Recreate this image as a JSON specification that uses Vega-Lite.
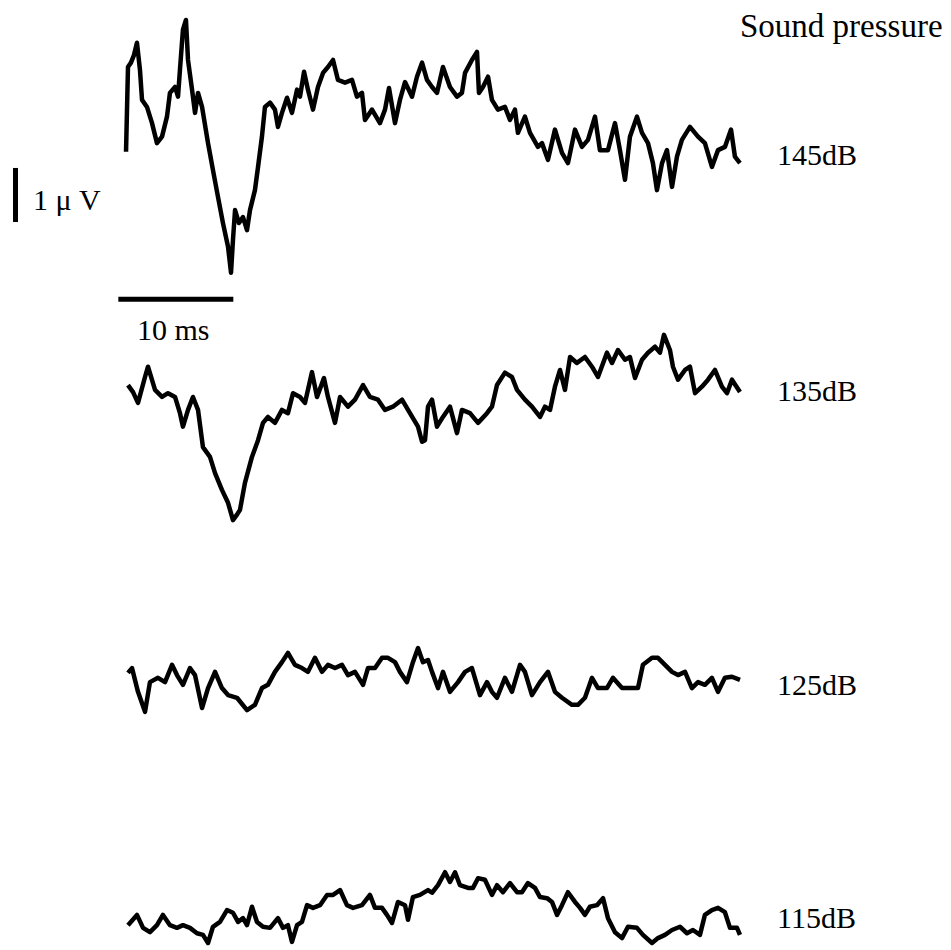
{
  "$schema": "https://vega.github.io/schema/vega-lite/v6.json",
  "width": 951,
  "height": 950,
  "autosize": {"type": "fit", "contains": "padding"},
  "padding": 0,
  "background": "white",
  "config": {"view": {"stroke": null}},
  "datasets": {
    "traces": [
      {"trace":"145dB","ms":0.09,"uV":14.78},{"trace":"145dB","ms":0.26,"uV":16.35},{"trace":"145dB","ms":0.52,"uV":16.43},{"trace":"145dB","ms":0.78,"uV":16.57},{"trace":"145dB","ms":1.04,"uV":16.80},{"trace":"145dB","ms":1.30,"uV":16.30},{"trace":"145dB","ms":1.48,"uV":15.74},{"trace":"145dB","ms":1.91,"uV":15.61},{"trace":"145dB","ms":2.35,"uV":15.31},{"trace":"145dB","ms":2.78,"uV":14.94},{"trace":"145dB","ms":3.22,"uV":15.06},{"trace":"145dB","ms":3.65,"uV":15.43},{"trace":"145dB","ms":3.91,"uV":15.87},{"trace":"145dB","ms":4.35,"uV":15.98},{"trace":"145dB","ms":4.61,"uV":15.80},{"trace":"145dB","ms":4.78,"uV":16.30},{"trace":"145dB","ms":5.04,"uV":17.04},{"trace":"145dB","ms":5.30,"uV":17.22},{"trace":"145dB","ms":5.48,"uV":16.48},{"trace":"145dB","ms":5.83,"uV":15.93},{"trace":"145dB","ms":6.09,"uV":15.50},{"trace":"145dB","ms":6.35,"uV":15.87},{"trace":"145dB","ms":6.70,"uV":15.61},{"trace":"145dB","ms":7.22,"uV":14.94},{"trace":"145dB","ms":7.65,"uV":14.44},{"trace":"145dB","ms":8.09,"uV":13.94},{"trace":"145dB","ms":8.52,"uV":13.46},{"trace":"145dB","ms":8.96,"uV":13.02},{"trace":"145dB","ms":9.22,"uV":12.54},{"trace":"145dB","ms":9.39,"uV":13.15},{"trace":"145dB","ms":9.57,"uV":13.70},{"trace":"145dB","ms":9.91,"uV":13.46},{"trace":"145dB","ms":10.26,"uV":13.57},{"trace":"145dB","ms":10.61,"uV":13.33},{"trace":"145dB","ms":10.87,"uV":13.70},{"trace":"145dB","ms":11.30,"uV":14.07},{"trace":"145dB","ms":11.57,"uV":14.50},{"trace":"145dB","ms":11.91,"uV":15.06},{"trace":"145dB","ms":12.17,"uV":15.61},{"trace":"145dB","ms":12.61,"uV":15.69},{"trace":"145dB","ms":13.04,"uV":15.56},{"trace":"145dB","ms":13.30,"uV":15.24},{"trace":"145dB","ms":13.65,"uV":15.50},{"trace":"145dB","ms":14.09,"uV":15.78},{"trace":"145dB","ms":14.52,"uV":15.50},{"trace":"145dB","ms":14.96,"uV":15.93},{"trace":"145dB","ms":15.22,"uV":15.80},{"trace":"145dB","ms":15.57,"uV":16.26},{"trace":"145dB","ms":15.91,"uV":15.93},{"trace":"145dB","ms":16.35,"uV":15.56},{"trace":"145dB","ms":16.78,"uV":15.98},{"trace":"145dB","ms":17.22,"uV":16.24},{"trace":"145dB","ms":17.65,"uV":16.35},{"trace":"145dB","ms":18.09,"uV":16.48},{"trace":"145dB","ms":18.52,"uV":16.11},{"trace":"145dB","ms":19.13,"uV":16.06},{"trace":"145dB","ms":19.74,"uV":16.11},{"trace":"145dB","ms":20.17,"uV":15.80},{"trace":"145dB","ms":20.61,"uV":15.87},{"trace":"145dB","ms":20.87,"uV":15.37},{"trace":"145dB","ms":21.48,"uV":15.56},{"trace":"145dB","ms":22.17,"uV":15.31},{"trace":"145dB","ms":22.61,"uV":15.56},{"trace":"145dB","ms":22.96,"uV":15.96},{"trace":"145dB","ms":23.48,"uV":15.31},{"trace":"145dB","ms":23.91,"uV":15.74},{"trace":"145dB","ms":24.35,"uV":16.07},{"trace":"145dB","ms":24.96,"uV":15.80},{"trace":"145dB","ms":25.39,"uV":16.17},{"trace":"145dB","ms":25.83,"uV":16.43},{"trace":"145dB","ms":26.26,"uV":16.11},{"trace":"145dB","ms":26.70,"uV":15.98},{"trace":"145dB","ms":27.13,"uV":15.87},{"trace":"145dB","ms":27.65,"uV":16.35},{"trace":"145dB","ms":28.26,"uV":15.98},{"trace":"145dB","ms":28.87,"uV":15.80},{"trace":"145dB","ms":29.30,"uV":15.87},{"trace":"145dB","ms":29.57,"uV":16.24},{"trace":"145dB","ms":30.17,"uV":16.48},{"trace":"145dB","ms":30.61,"uV":16.63},{"trace":"145dB","ms":30.78,"uV":15.87},{"trace":"145dB","ms":31.13,"uV":15.98},{"trace":"145dB","ms":31.57,"uV":16.17},{"trace":"145dB","ms":31.91,"uV":15.74},{"trace":"145dB","ms":32.43,"uV":15.56},{"trace":"145dB","ms":33.04,"uV":15.61},{"trace":"145dB","ms":33.48,"uV":15.37},{"trace":"145dB","ms":33.91,"uV":15.56},{"trace":"145dB","ms":34.17,"uV":15.13},{"trace":"145dB","ms":34.78,"uV":15.43},{"trace":"145dB","ms":35.22,"uV":15.13},{"trace":"145dB","ms":35.91,"uV":14.87},{"trace":"145dB","ms":36.26,"uV":14.94},{"trace":"145dB","ms":36.78,"uV":14.63},{"trace":"145dB","ms":37.39,"uV":15.19},{"trace":"145dB","ms":38.00,"uV":14.76},{"trace":"145dB","ms":38.52,"uV":14.57},{"trace":"145dB","ms":39.13,"uV":15.19},{"trace":"145dB","ms":39.74,"uV":14.87},{"trace":"145dB","ms":40.26,"uV":15.00},{"trace":"145dB","ms":40.87,"uV":15.43},{"trace":"145dB","ms":41.30,"uV":14.81},{"trace":"145dB","ms":42.00,"uV":14.81},{"trace":"145dB","ms":42.61,"uV":15.31},{"trace":"145dB","ms":43.04,"uV":14.81},{"trace":"145dB","ms":43.48,"uV":14.26},{"trace":"145dB","ms":43.91,"uV":15.06},{"trace":"145dB","ms":44.52,"uV":15.43},{"trace":"145dB","ms":44.96,"uV":15.13},{"trace":"145dB","ms":45.48,"uV":14.94},{"trace":"145dB","ms":45.91,"uV":14.57},{"trace":"145dB","ms":46.26,"uV":14.07},{"trace":"145dB","ms":46.70,"uV":14.57},{"trace":"145dB","ms":47.13,"uV":14.81},{"trace":"145dB","ms":47.57,"uV":14.13},{"trace":"145dB","ms":48.00,"uV":14.69},{"trace":"145dB","ms":48.43,"uV":15.00},{"trace":"145dB","ms":49.13,"uV":15.24},{"trace":"145dB","ms":49.83,"uV":15.06},{"trace":"145dB","ms":50.43,"uV":14.94},{"trace":"145dB","ms":51.04,"uV":14.50},{"trace":"145dB","ms":51.57,"uV":14.81},{"trace":"145dB","ms":52.17,"uV":14.87},{"trace":"145dB","ms":52.70,"uV":15.19},{"trace":"145dB","ms":53.04,"uV":14.69},{"trace":"145dB","ms":53.48,"uV":14.57},

      {"trace":"135dB","ms":0.26,"uV":10.46},{"trace":"135dB","ms":0.70,"uV":10.33},{"trace":"135dB","ms":1.13,"uV":10.13},{"trace":"135dB","ms":1.74,"uV":10.61},{"trace":"135dB","ms":2.00,"uV":10.80},{"trace":"135dB","ms":2.61,"uV":10.37},{"trace":"135dB","ms":3.22,"uV":10.24},{"trace":"135dB","ms":3.74,"uV":10.31},{"trace":"135dB","ms":4.35,"uV":10.24},{"trace":"135dB","ms":4.78,"uV":9.94},{"trace":"135dB","ms":5.04,"uV":9.69},{"trace":"135dB","ms":5.48,"uV":10.00},{"trace":"135dB","ms":5.91,"uV":10.24},{"trace":"135dB","ms":6.35,"uV":10.00},{"trace":"135dB","ms":6.78,"uV":9.31},{"trace":"135dB","ms":7.39,"uV":9.13},{"trace":"135dB","ms":7.83,"uV":8.83},{"trace":"135dB","ms":8.43,"uV":8.52},{"trace":"135dB","ms":8.96,"uV":8.28},{"trace":"135dB","ms":9.39,"uV":7.96},{"trace":"135dB","ms":9.74,"uV":8.06},{"trace":"135dB","ms":10.00,"uV":8.15},{"trace":"135dB","ms":10.43,"uV":8.65},{"trace":"135dB","ms":11.04,"uV":9.13},{"trace":"135dB","ms":11.57,"uV":9.44},{"trace":"135dB","ms":12.00,"uV":9.76},{"trace":"135dB","ms":12.43,"uV":9.87},{"trace":"135dB","ms":13.04,"uV":9.76},{"trace":"135dB","ms":13.65,"uV":10.00},{"trace":"135dB","ms":14.17,"uV":9.94},{"trace":"135dB","ms":14.61,"uV":10.31},{"trace":"135dB","ms":15.22,"uV":10.24},{"trace":"135dB","ms":15.65,"uV":10.13},{"trace":"135dB","ms":16.26,"uV":10.70},{"trace":"135dB","ms":16.70,"uV":10.24},{"trace":"135dB","ms":17.30,"uV":10.59},{"trace":"135dB","ms":17.65,"uV":10.24},{"trace":"135dB","ms":18.26,"uV":9.76},{"trace":"135dB","ms":18.70,"uV":10.24},{"trace":"135dB","ms":19.39,"uV":10.06},{"trace":"135dB","ms":20.00,"uV":10.19},{"trace":"135dB","ms":20.70,"uV":10.46},{"trace":"135dB","ms":21.30,"uV":10.24},{"trace":"135dB","ms":22.00,"uV":10.19},{"trace":"135dB","ms":22.61,"uV":10.00},{"trace":"135dB","ms":23.30,"uV":10.06},{"trace":"135dB","ms":24.09,"uV":10.19},{"trace":"135dB","ms":24.78,"uV":9.94},{"trace":"135dB","ms":25.48,"uV":9.69},{"trace":"135dB","ms":25.83,"uV":9.41},{"trace":"135dB","ms":26.09,"uV":9.44},{"trace":"135dB","ms":26.35,"uV":10.06},{"trace":"135dB","ms":26.70,"uV":10.19},{"trace":"135dB","ms":27.13,"uV":9.69},{"trace":"135dB","ms":27.65,"uV":9.87},{"trace":"135dB","ms":28.26,"uV":10.06},{"trace":"135dB","ms":28.87,"uV":9.57},{"trace":"135dB","ms":29.30,"uV":10.00},{"trace":"135dB","ms":30.00,"uV":9.94},{"trace":"135dB","ms":30.70,"uV":9.76},{"trace":"135dB","ms":31.48,"uV":9.94},{"trace":"135dB","ms":31.91,"uV":10.06},{"trace":"135dB","ms":32.35,"uV":10.46},{"trace":"135dB","ms":33.04,"uV":10.69},{"trace":"135dB","ms":33.65,"uV":10.61},{"trace":"135dB","ms":34.09,"uV":10.37},{"trace":"135dB","ms":34.78,"uV":10.19},{"trace":"135dB","ms":35.39,"uV":10.06},{"trace":"135dB","ms":36.09,"uV":9.87},{"trace":"135dB","ms":36.52,"uV":10.06},{"trace":"135dB","ms":36.96,"uV":10.00},{"trace":"135dB","ms":37.39,"uV":10.43},{"trace":"135dB","ms":37.83,"uV":10.74},{"trace":"135dB","ms":38.26,"uV":10.37},{"trace":"135dB","ms":38.70,"uV":10.98},{"trace":"135dB","ms":39.30,"uV":10.87},{"trace":"135dB","ms":40.00,"uV":10.98},{"trace":"135dB","ms":40.61,"uV":10.80},{"trace":"135dB","ms":41.13,"uV":10.61},{"trace":"135dB","ms":41.91,"uV":11.06},{"trace":"135dB","ms":42.35,"uV":10.87},{"trace":"135dB","ms":42.87,"uV":11.11},{"trace":"135dB","ms":43.48,"uV":10.93},{"trace":"135dB","ms":43.91,"uV":10.98},{"trace":"135dB","ms":44.35,"uV":10.59},{"trace":"135dB","ms":44.96,"uV":10.93},{"trace":"135dB","ms":45.48,"uV":11.06},{"trace":"135dB","ms":46.09,"uV":11.17},{"trace":"135dB","ms":46.52,"uV":11.06},{"trace":"135dB","ms":46.87,"uV":11.39},{"trace":"135dB","ms":47.39,"uV":11.11},{"trace":"135dB","ms":47.65,"uV":10.80},{"trace":"135dB","ms":48.09,"uV":10.56},{"trace":"135dB","ms":48.70,"uV":10.74},{"trace":"135dB","ms":49.13,"uV":10.80},{"trace":"135dB","ms":49.57,"uV":10.31},{"trace":"135dB","ms":50.17,"uV":10.43},{"trace":"135dB","ms":50.70,"uV":10.56},{"trace":"135dB","ms":51.30,"uV":10.74},{"trace":"135dB","ms":51.91,"uV":10.43},{"trace":"135dB","ms":52.35,"uV":10.31},{"trace":"135dB","ms":52.78,"uV":10.56},{"trace":"135dB","ms":53.48,"uV":10.33},

      {"trace":"125dB","ms":0.26,"uV":5.13},{"trace":"125dB","ms":0.61,"uV":5.22},{"trace":"125dB","ms":1.13,"uV":4.78},{"trace":"125dB","ms":1.74,"uV":4.41},{"trace":"125dB","ms":2.17,"uV":4.96},{"trace":"125dB","ms":2.87,"uV":5.04},{"trace":"125dB","ms":3.48,"uV":4.96},{"trace":"125dB","ms":4.09,"uV":5.28},{"trace":"125dB","ms":4.52,"uV":5.09},{"trace":"125dB","ms":5.04,"uV":4.91},{"trace":"125dB","ms":5.65,"uV":5.22},{"trace":"125dB","ms":6.09,"uV":5.09},{"trace":"125dB","ms":6.70,"uV":4.48},{"trace":"125dB","ms":7.22,"uV":4.85},{"trace":"125dB","ms":7.83,"uV":5.15},{"trace":"125dB","ms":8.43,"uV":4.85},{"trace":"125dB","ms":8.96,"uV":4.72},{"trace":"125dB","ms":9.74,"uV":4.67},{"trace":"125dB","ms":10.61,"uV":4.44},{"trace":"125dB","ms":11.30,"uV":4.54},{"trace":"125dB","ms":11.91,"uV":4.85},{"trace":"125dB","ms":12.43,"uV":4.91},{"trace":"125dB","ms":13.04,"uV":5.15},{"trace":"125dB","ms":13.65,"uV":5.33},{"trace":"125dB","ms":14.17,"uV":5.50},{"trace":"125dB","ms":14.78,"uV":5.28},{"trace":"125dB","ms":15.39,"uV":5.22},{"trace":"125dB","ms":15.91,"uV":5.15},{"trace":"125dB","ms":16.52,"uV":5.41},{"trace":"125dB","ms":17.13,"uV":5.15},{"trace":"125dB","ms":17.65,"uV":5.28},{"trace":"125dB","ms":18.26,"uV":5.22},{"trace":"125dB","ms":18.87,"uV":5.28},{"trace":"125dB","ms":19.39,"uV":5.09},{"trace":"125dB","ms":20.00,"uV":5.15},{"trace":"125dB","ms":20.70,"uV":4.91},{"trace":"125dB","ms":21.13,"uV":5.22},{"trace":"125dB","ms":21.74,"uV":5.22},{"trace":"125dB","ms":22.35,"uV":5.41},{"trace":"125dB","ms":22.87,"uV":5.41},{"trace":"125dB","ms":23.48,"uV":5.33},{"trace":"125dB","ms":23.91,"uV":5.15},{"trace":"125dB","ms":24.52,"uV":4.96},{"trace":"125dB","ms":25.04,"uV":5.33},{"trace":"125dB","ms":25.48,"uV":5.59},{"trace":"125dB","ms":25.91,"uV":5.33},{"trace":"125dB","ms":26.35,"uV":5.37},{"trace":"125dB","ms":26.70,"uV":5.15},{"trace":"125dB","ms":27.22,"uV":4.85},{"trace":"125dB","ms":27.65,"uV":5.15},{"trace":"125dB","ms":28.26,"uV":4.78},{"trace":"125dB","ms":28.96,"uV":4.96},{"trace":"125dB","ms":29.57,"uV":5.15},{"trace":"125dB","ms":30.17,"uV":5.22},{"trace":"125dB","ms":30.87,"uV":4.72},{"trace":"125dB","ms":31.48,"uV":4.96},{"trace":"125dB","ms":31.91,"uV":4.78},{"trace":"125dB","ms":32.35,"uV":4.67},{"trace":"125dB","ms":33.04,"uV":5.04},{"trace":"125dB","ms":33.65,"uV":4.78},{"trace":"125dB","ms":34.35,"uV":5.28},{"trace":"125dB","ms":34.78,"uV":5.15},{"trace":"125dB","ms":35.39,"uV":4.72},{"trace":"125dB","ms":36.09,"uV":4.96},{"trace":"125dB","ms":36.78,"uV":5.15},{"trace":"125dB","ms":37.39,"uV":4.78},{"trace":"125dB","ms":38.00,"uV":4.67},{"trace":"125dB","ms":38.87,"uV":4.54},{"trace":"125dB","ms":39.39,"uV":4.54},{"trace":"125dB","ms":40.00,"uV":4.67},{"trace":"125dB","ms":40.61,"uV":5.04},{"trace":"125dB","ms":41.13,"uV":4.85},{"trace":"125dB","ms":41.91,"uV":4.85},{"trace":"125dB","ms":42.43,"uV":5.04},{"trace":"125dB","ms":43.22,"uV":4.85},{"trace":"125dB","ms":43.91,"uV":4.85},{"trace":"125dB","ms":44.61,"uV":4.85},{"trace":"125dB","ms":45.04,"uV":5.28},{"trace":"125dB","ms":45.83,"uV":5.41},{"trace":"125dB","ms":46.35,"uV":5.41},{"trace":"125dB","ms":46.96,"uV":5.28},{"trace":"125dB","ms":47.57,"uV":5.15},{"trace":"125dB","ms":48.09,"uV":5.09},{"trace":"125dB","ms":48.70,"uV":5.15},{"trace":"125dB","ms":49.30,"uV":4.85},{"trace":"125dB","ms":49.83,"uV":4.96},{"trace":"125dB","ms":50.43,"uV":4.91},{"trace":"125dB","ms":51.04,"uV":5.04},{"trace":"125dB","ms":51.57,"uV":4.78},{"trace":"125dB","ms":52.17,"uV":5.04},{"trace":"125dB","ms":52.78,"uV":5.06},{"trace":"125dB","ms":53.48,"uV":5.00},

      {"trace":"115dB","ms":0.26,"uV":0.46},{"trace":"115dB","ms":1.04,"uV":0.65},{"trace":"115dB","ms":1.57,"uV":0.41},{"trace":"115dB","ms":2.17,"uV":0.33},{"trace":"115dB","ms":2.78,"uV":0.46},{"trace":"115dB","ms":3.30,"uV":0.65},{"trace":"115dB","ms":3.91,"uV":0.46},{"trace":"115dB","ms":4.52,"uV":0.41},{"trace":"115dB","ms":5.04,"uV":0.46},{"trace":"115dB","ms":5.65,"uV":0.41},{"trace":"115dB","ms":6.26,"uV":0.31},{"trace":"115dB","ms":6.78,"uV":0.28},{"trace":"115dB","ms":7.22,"uV":0.13},{"trace":"115dB","ms":7.65,"uV":0.43},{"trace":"115dB","ms":8.26,"uV":0.52},{"trace":"115dB","ms":8.87,"uV":0.74},{"trace":"115dB","ms":9.39,"uV":0.69},{"trace":"115dB","ms":9.83,"uV":0.52},{"trace":"115dB","ms":10.26,"uV":0.59},{"trace":"115dB","ms":10.61,"uV":0.46},{"trace":"115dB","ms":11.04,"uV":0.80},{"trace":"115dB","ms":11.48,"uV":0.52},{"trace":"115dB","ms":12.00,"uV":0.43},{"trace":"115dB","ms":12.61,"uV":0.41},{"trace":"115dB","ms":13.30,"uV":0.59},{"trace":"115dB","ms":13.74,"uV":0.41},{"trace":"115dB","ms":14.17,"uV":0.46},{"trace":"115dB","ms":14.52,"uV":0.15},{"trace":"115dB","ms":14.96,"uV":0.46},{"trace":"115dB","ms":15.39,"uV":0.52},{"trace":"115dB","ms":15.83,"uV":0.83},{"trace":"115dB","ms":16.35,"uV":0.78},{"trace":"115dB","ms":16.96,"uV":0.83},{"trace":"115dB","ms":17.57,"uV":1.02},{"trace":"115dB","ms":18.09,"uV":1.02},{"trace":"115dB","ms":18.70,"uV":1.11},{"trace":"115dB","ms":19.30,"uV":0.83},{"trace":"115dB","ms":19.83,"uV":0.78},{"trace":"115dB","ms":20.61,"uV":0.83},{"trace":"115dB","ms":21.30,"uV":1.02},{"trace":"115dB","ms":21.74,"uV":0.78},{"trace":"115dB","ms":22.35,"uV":0.78},{"trace":"115dB","ms":22.78,"uV":0.65},{"trace":"115dB","ms":23.22,"uV":0.50},{"trace":"115dB","ms":23.74,"uV":0.89},{"trace":"115dB","ms":24.35,"uV":0.83},{"trace":"115dB","ms":24.61,"uV":0.56},{"trace":"115dB","ms":25.04,"uV":0.98},{"trace":"115dB","ms":25.65,"uV":1.02},{"trace":"115dB","ms":26.35,"uV":1.11},{"trace":"115dB","ms":26.70,"uV":1.06},{"trace":"115dB","ms":27.22,"uV":1.20},{"trace":"115dB","ms":27.83,"uV":1.44},{"trace":"115dB","ms":28.26,"uV":1.26},{"trace":"115dB","ms":28.70,"uV":1.44},{"trace":"115dB","ms":29.13,"uV":1.20},{"trace":"115dB","ms":29.83,"uV":1.15},{"trace":"115dB","ms":30.26,"uV":1.15},{"trace":"115dB","ms":30.70,"uV":1.33},{"trace":"115dB","ms":31.30,"uV":1.30},{"trace":"115dB","ms":31.91,"uV":1.02},{"trace":"115dB","ms":32.35,"uV":1.20},{"trace":"115dB","ms":32.87,"uV":1.07},{"trace":"115dB","ms":33.48,"uV":1.24},{"trace":"115dB","ms":34.09,"uV":1.07},{"trace":"115dB","ms":34.52,"uV":1.07},{"trace":"115dB","ms":35.04,"uV":1.24},{"trace":"115dB","ms":35.65,"uV":1.15},{"trace":"115dB","ms":36.09,"uV":0.98},{"trace":"115dB","ms":36.70,"uV":0.96},{"trace":"115dB","ms":37.13,"uV":0.89},{"trace":"115dB","ms":37.57,"uV":0.65},{"trace":"115dB","ms":38.00,"uV":0.83},{"trace":"115dB","ms":38.52,"uV":1.07},{"trace":"115dB","ms":39.13,"uV":0.89},{"trace":"115dB","ms":39.57,"uV":0.78},{"trace":"115dB","ms":40.00,"uV":0.65},{"trace":"115dB","ms":40.43,"uV":0.80},{"trace":"115dB","ms":41.04,"uV":0.83},{"trace":"115dB","ms":41.57,"uV":0.96},{"trace":"115dB","ms":42.00,"uV":0.59},{"trace":"115dB","ms":42.61,"uV":0.33},{"trace":"115dB","ms":43.22,"uV":0.22},{"trace":"115dB","ms":43.74,"uV":0.43},{"trace":"115dB","ms":44.52,"uV":0.41},{"trace":"115dB","ms":45.04,"uV":0.28},{"trace":"115dB","ms":45.83,"uV":0.13},{"trace":"115dB","ms":46.35,"uV":0.22},{"trace":"115dB","ms":46.96,"uV":0.28},{"trace":"115dB","ms":47.57,"uV":0.37},{"trace":"115dB","ms":48.26,"uV":0.43},{"trace":"115dB","ms":48.87,"uV":0.31},{"trace":"115dB","ms":49.39,"uV":0.37},{"trace":"115dB","ms":50.00,"uV":0.28},{"trace":"115dB","ms":50.43,"uV":0.65},{"trace":"115dB","ms":51.04,"uV":0.74},{"trace":"115dB","ms":51.57,"uV":0.78},{"trace":"115dB","ms":52.17,"uV":0.70},{"trace":"115dB","ms":52.61,"uV":0.41},{"trace":"115dB","ms":53.22,"uV":0.41},{"trace":"115dB","ms":53.48,"uV":0.28}
    ],
    "bars": [
      {"bar":"1 μV","ms":-9.52,"uV":13.48,"ms2":-9.52,"uV2":14.48},
      {"bar":"10 ms","ms":-0.58,"uV":12.05,"ms2":9.42,"uV2":12.05}
    ],
    "labels": [
      {"label":"145dB","ms":56.70,"uV":14.70},
      {"label":"135dB","ms":56.70,"uV":10.33},
      {"label":"125dB","ms":56.70,"uV":4.89},
      {"label":"115dB","ms":56.70,"uV":0.57},
      {"label":"1 μ V","ms":-8.0,"uV":13.87},
      {"label":"10 ms","ms":1.04,"uV":11.46}
    ],
    "title": [
      {"label":"Sound pressure","ms":53.48,"uV":17.09}
    ]
  },
  "layer": [
    {
      "data": {"name": "traces"},
      "mark": {"type": "line", "stroke": "black", "strokeWidth": 4.5, "strokeJoin": "round"},
      "encoding": {
        "x": {"field": "ms", "type": "quantitative", "scale": {"domain": [-10.87, 71.83], "nice": false, "zero": false}, "axis": null},
        "y": {"field": "uV", "type": "quantitative", "scale": {"domain": [0, 17.59], "nice": false, "zero": false}, "axis": null},
        "detail": {"field": "trace"}
      }
    },
    {
      "data": {"name": "bars"},
      "mark": {"type": "rule", "stroke": "black", "strokeWidth": 5},
      "encoding": {
        "x": {"field": "ms", "type": "quantitative"},
        "x2": {"field": "ms2"},
        "y": {"field": "uV", "type": "quantitative"},
        "y2": {"field": "uV2"}
      }
    },
    {
      "data": {"name": "labels"},
      "mark": {"type": "text", "align": "left", "baseline": "middle", "font": "Liberation Serif", "fontSize": 30, "color": "black"},
      "encoding": {
        "x": {"field": "ms", "type": "quantitative"},
        "y": {"field": "uV", "type": "quantitative"},
        "text": {"field": "label"}
      }
    },
    {
      "data": {"name": "title"},
      "mark": {"type": "text", "align": "left", "baseline": "middle", "font": "Liberation Serif", "fontSize": 33, "color": "black"},
      "encoding": {
        "x": {"field": "ms", "type": "quantitative"},
        "y": {"field": "uV", "type": "quantitative"},
        "text": {"field": "label"}
      }
    }
  ]
}
